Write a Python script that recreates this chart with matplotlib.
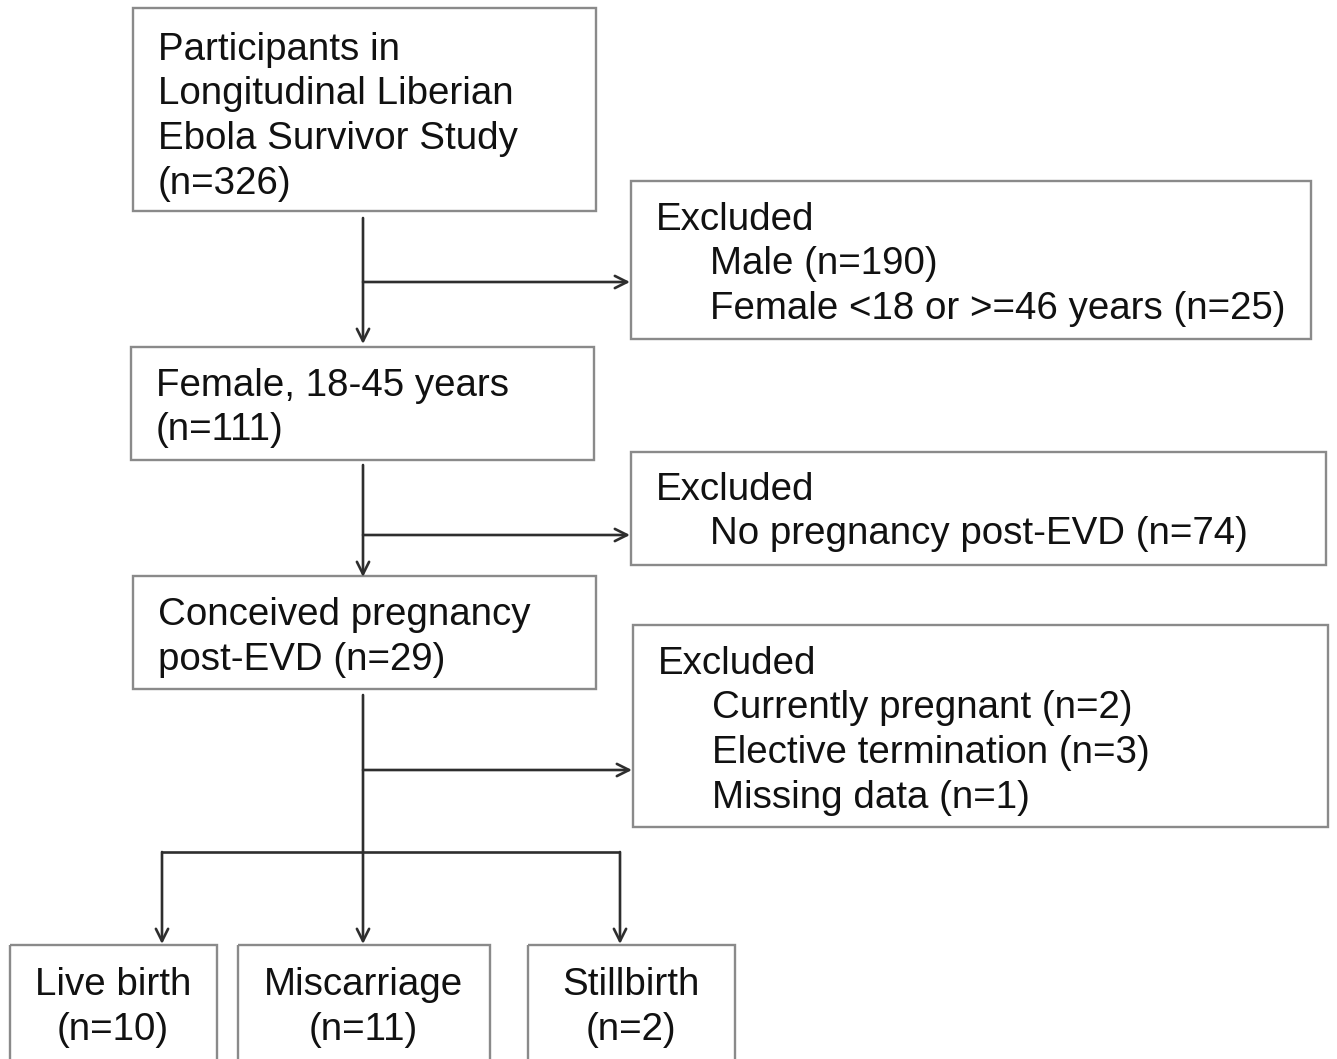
import matplotlib
matplotlib.use("Agg")
import matplotlib.pyplot as plt
from matplotlib.patches import Rectangle, FancyArrowPatch

plt.rcParams['font.family'] = ['Liberation Sans', 'DejaVu Sans']

# ---- data (texts) ----
main_titles = ["Participants in\nLongitudinal Liberian\nEbola Survivor Study",
               "Female, 18-45 years",
               "Conceived pregnancy\npost-EVD"]
main_n = [326, 111, 29]
excl_labels = [["Male", "Female <18 or >=46 years"],
               ["No pregnancy post-EVD"],
               ["Currently pregnant", "Elective termination", "Missing data"]]
excl_n = [[190, 25], [74], [2, 3, 1]]
outcome_labels = ["Live birth", "Miscarriage", "Stillbirth"]
outcome_n = [10, 11, 2]

W, H = 1337, 1059
fig = plt.figure(figsize=(W / 100, H / 100), dpi=100)
ax = fig.add_axes([0, 0, 1, 1])
ax.set_xlim(0, W)
ax.set_ylim(H, 0)
ax.axis('off')

FS = 27.7
BOX_C = '#8a8a8a'
LINE_C = '#2e2e2e'
LH = 44.5
DY = 3


def box(x0, y0, x1, y1):
    ax.add_patch(Rectangle((x0, y0), x1 - x0, y1 - y0, fill=False,
                           edgecolor=BOX_C, lw=1.7))


def lines(x, y, texts, ha='left'):
    for i, t in enumerate(texts):
        ax.text(x, y + DY + i * LH, t, fontsize=FS, ha=ha, va='center',
                color='#111111')


def arrow(x0, y0, x1, y1):
    ax.add_patch(FancyArrowPatch((x0, y0), (x1, y1), arrowstyle='->',
                                 mutation_scale=22, color=LINE_C, lw=1.9,
                                 shrinkA=0, shrinkB=0))


def seg(xs, ys):
    ax.plot(xs, ys, color=LINE_C, lw=1.9, solid_capstyle='butt')


# main boxes
main_geo = [(133, 8, 596, 211, 47), (131, 347, 594, 460, 383), (133, 576, 596, 689, 612)]
for (x0, y0, x1, y1, ty), t, n in zip(main_geo, main_titles, main_n):
    box(x0, y0, x1, y1)
    tl = t.split("\n")
    if len(tl) == 2:
        tl[-1] = tl[-1] + f" (n={n})"
    else:
        tl.append(f"(n={n})")
    lines(x0 + 25, ty, tl)

# excluded boxes
excl_geo = [(631, 181, 1311, 339, 217), (631, 452, 1326, 565, 487), (633, 625, 1328, 827, 661)]
for (x0, y0, x1, y1, ty), labs, ns in zip(excl_geo, excl_labels, excl_n):
    box(x0, y0, x1, y1)
    lines(x0 + 25, ty, ["Excluded"])
    lines(x0 + 79, ty + LH, [f"{l} (n={n})" for l, n in zip(labs, ns)])

# outcome boxes
out_geo = [(10, 945, 217, 1080), (238, 945, 490, 1080), (528, 945, 735, 1080)]
for (x0, y0, x1, y1), l, n in zip(out_geo, outcome_labels, outcome_n):
    box(x0, y0, x1, y1)
    lines((x0 + x1) / 2 - 0.5, 982, [l, f"(n={n})"], ha='center')

# arrows
cx = 363
arrow(cx, 218, cx, 344)
arrow(cx, 282, 630, 282)
arrow(cx, 465, cx, 577)
arrow(cx, 535, 630, 535)
arrow(cx, 695, cx, 944)
arrow(cx, 770, 632, 770)
seg([162, 620], [852, 852])
arrow(162, 852, 162, 944)
arrow(620, 852, 620, 944)

fig.savefig("out.png", dpi=100)
